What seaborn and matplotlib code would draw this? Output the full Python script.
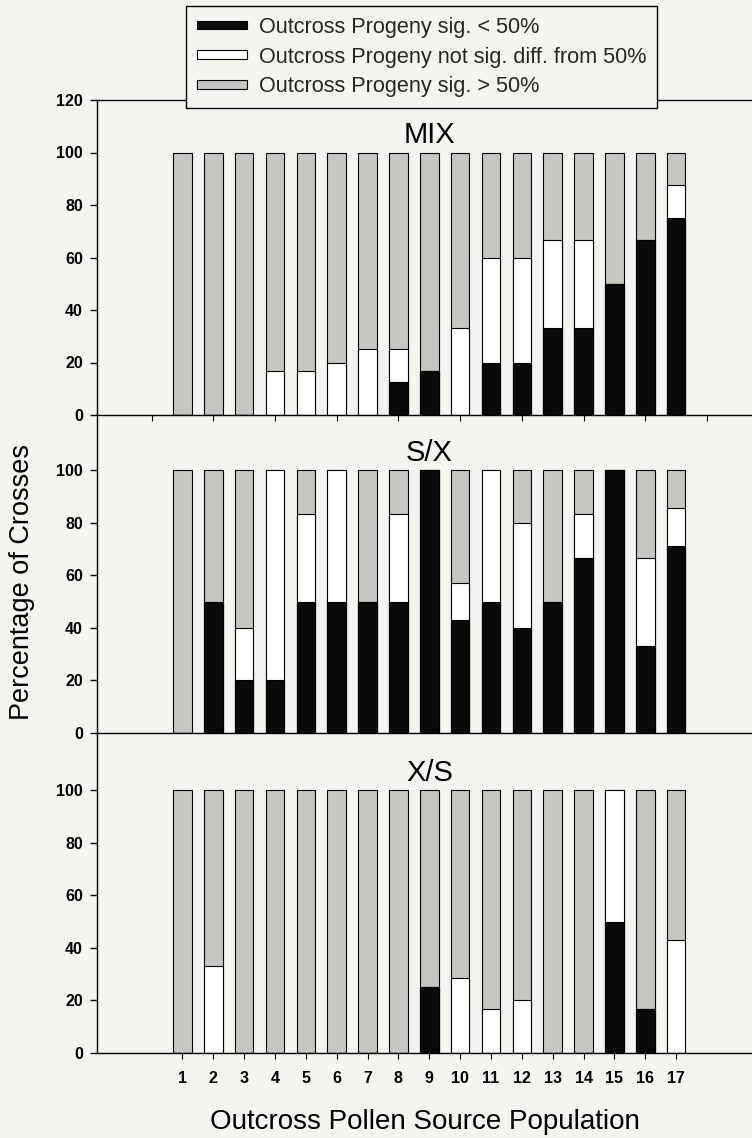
import matplotlib
matplotlib.use("Agg")
import matplotlib.pyplot as plt
from matplotlib.patches import Patch
import numpy as np
import pandas as pd
import seaborn as sns

# ---------------- data ----------------
populations = list(range(1, 18))
panel_names = ["MIX", "S/X", "X/S"]

# percentage of crosses: sig. < 50%, not sig. diff., sig. > 50%
mix_below = [0, 0, 0, 0, 0, 0, 0, 12.5, 16.7, 0, 20, 20, 33.3, 33.3, 50, 66.7, 75]
mix_notsig = [0, 0, 0, 16.7, 16.7, 20, 25, 12.5, 0, 33.3, 40, 40, 33.3, 33.3, 0, 0, 12.5]
mix_above = [100, 100, 100, 83.3, 83.3, 80, 75, 75, 83.3, 66.7, 40, 40, 33.4, 33.4, 50, 33.3, 12.5]

sx_below = [0, 50, 20, 20, 50, 50, 50, 50, 100, 42.9, 50, 40, 50, 66.7, 100, 33.3, 71.4]
sx_notsig = [0, 0, 20, 80, 33.3, 50, 0, 33.3, 0, 14.3, 50, 40, 0, 16.7, 0, 33.3, 14.3]
sx_above = [100, 50, 60, 0, 16.7, 0, 50, 16.7, 0, 42.8, 0, 20, 50, 16.6, 0, 33.4, 14.3]

xs_below = [0, 0, 0, 0, 0, 0, 0, 0, 25, 0, 0, 0, 0, 0, 50, 16.7, 0]
xs_notsig = [0, 33.3, 0, 0, 0, 0, 0, 0, 0, 28.6, 16.7, 20, 0, 0, 50, 0, 42.9]
xs_above = [100, 66.7, 100, 100, 100, 100, 100, 100, 75, 71.4, 83.3, 80, 100, 100, 0, 83.3, 57.1]

legend_labels = ["Outcross Progeny sig. < 50%",
                 "Outcross Progeny not sig. diff. from 50%",
                 "Outcross Progeny sig. > 50%"]
y_label = "Percentage of Crosses"
x_label = "Outcross Pollen Source Population"

panels = [
    (mix_below, mix_notsig, mix_above),
    (sx_below, sx_notsig, sx_above),
    (xs_below, xs_notsig, xs_above),
]

# ---------------- style ----------------
BG = "#f5f5ef"
C_BLACK = "#0a0a0a"
C_WHITE = "#ffffff"
C_GRAY = "#c6c6c0"

sns.set_theme(style="ticks")
plt.rcParams["font.family"] = ["Liberation Sans", "DejaVu Sans"]
plt.rcParams["axes.linewidth"] = 1.0
plt.rcParams["axes.edgecolor"] = "black"

fig = plt.figure(figsize=(7.52, 11.38), dpi=100, facecolor=BG)
W, H = 752.0, 1138.0
left = 97 / W
# (top_px, bottom_px, ymax)
layout = [(100, 415, 120.0), (415, 733, 121.1), (733, 1053, 121.9)]

axes = []
for (tpx, bpx, ymax) in layout:
    ax = fig.add_axes([left, 1 - bpx / H, 1 - left, (bpx - tpx) / H])
    ax.set_facecolor("none")
    axes.append(ax)

for i, (ax, (below, notsig, above), name) in enumerate(zip(axes, panels, panel_names)):
    df = pd.DataFrame({
        "pop": populations,
        "below": below,
        "notsig": notsig,
        "above": above,
    })
    df["total"] = df["below"] + df["notsig"] + df["above"]
    df["cum_white"] = df["below"] + df["notsig"]

    common = dict(x="pop", native_scale=True, width=0.6, saturation=1,
                  edgecolor="black", linewidth=0.8, errorbar=None, ax=ax)
    sns.barplot(data=df, y="total", color=C_GRAY, **common)
    sns.barplot(data=df, y="cum_white", color=C_WHITE, **common)
    sns.barplot(data=df, y="below", color=C_BLACK, **common)

    ax.set_xlim(-1.77, 19.46)
    ax.set_ylim(0, layout[i][2])
    ax.set_xlabel("")
    ax.set_ylabel("")
    ax.spines["right"].set_visible(False)
    if i != 0:
        ax.spines["top"].set_visible(False)
    for sp in ax.spines.values():
        sp.set_color("black")
        sp.set_zorder(5)

    if i == 0:
        ax.set_yticks(np.arange(0, 121, 20))
    else:
        ax.set_yticks(np.arange(0, 101, 20))
    ax.tick_params(axis="y", direction="out", length=5, width=1, pad=5,
                   labelsize=11.5, colors="black")
    for lab in ax.get_yticklabels():
        lab.set_fontweight("bold")

    if i == 0:
        ax.set_xticks(np.arange(0, 19, 2))
        ax.tick_params(axis="x", direction="out", length=4, width=0.8, labelbottom=False,
                       colors="black")
    elif i == 1:
        ax.set_xticks([])
    else:
        ax.set_xticks(populations)
        ax.set_xticklabels([str(p) for p in populations])
        ax.tick_params(axis="x", direction="out", length=4, width=0.8, pad=9,
                       labelsize=11.5, colors="black")
        for lab in ax.get_xticklabels():
            lab.set_fontweight("bold")

    ax.text(9, 103.5, name, ha="center", va="baseline", fontsize=21, color="black")

fig.text(0.029, 0.489, y_label, rotation=90, ha="center", va="center",
         fontsize=19.5, color="black")
fig.text(425 / W, 1 - 1129 / H, x_label, ha="center", va="baseline",
         fontsize=20, color="black")

handles = [Patch(facecolor=c, edgecolor="black", linewidth=0.8)
           for c in (C_BLACK, C_WHITE, C_GRAY)]
leg = fig.legend(handles, legend_labels, loc="upper left",
                 bbox_to_anchor=(186 / W, 1 - 6 / H), bbox_transform=fig.transFigure,
                 fontsize=15.6, frameon=True, fancybox=False, framealpha=1,
                 facecolor=BG, edgecolor="black", borderpad=0.5,
                 handlelength=2.3, handleheight=0.25, handletextpad=0.55,
                 labelspacing=0.4, borderaxespad=0)
leg.get_frame().set_linewidth(1.0)
leg.set_zorder(10)

fig.savefig("out.png", dpi=100, facecolor=BG)
